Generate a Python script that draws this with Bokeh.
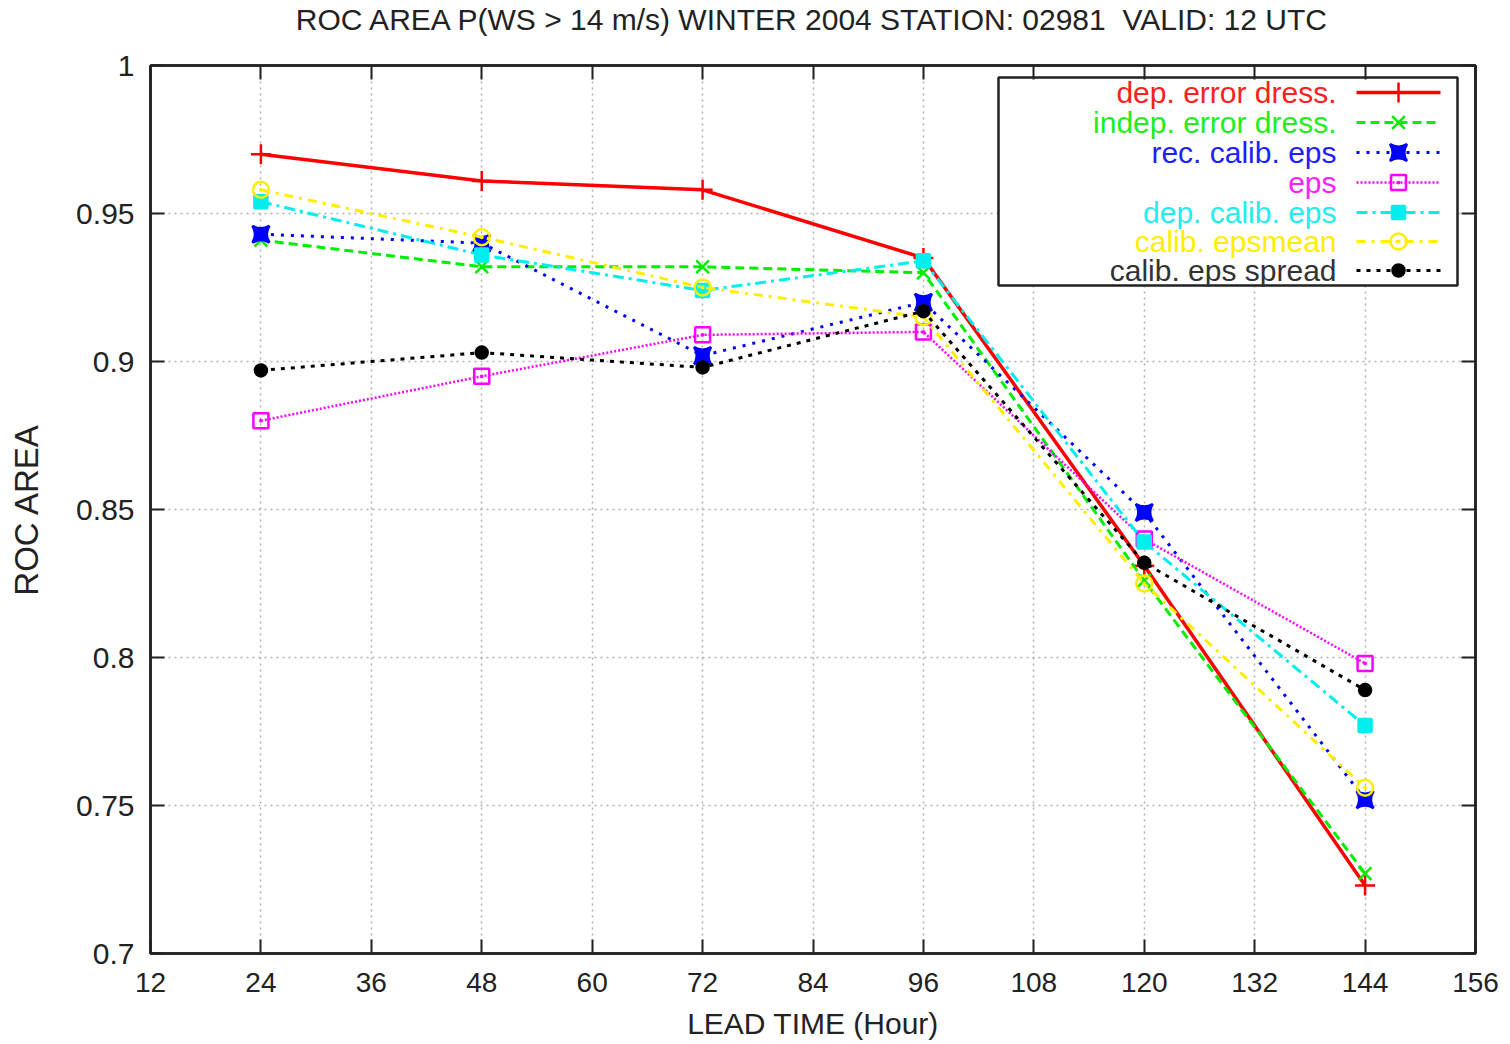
from bokeh.plotting import figure
from bokeh.models import (Range1d, FixedTicker, NumeralTickFormatter, LinearAxis,
                          Label, BoxAnnotation, CustomLabelingPolicy)
from bokeh.embed import file_html
from bokeh.resources import INLINE

# ---------------- data ----------------
lead_time = [24, 48, 72, 96, 120, 144]
dep_error_dress = [0.970, 0.961, 0.958, 0.935, 0.831, 0.723]
indep_error_dress = [0.941, 0.932, 0.932, 0.930, 0.826, 0.727]
rec_calib_eps = [0.943, 0.940, 0.902, 0.920, 0.849, 0.752]
eps = [0.880, 0.895, 0.909, 0.910, 0.840, 0.798]
dep_calib_eps = [0.954, 0.936, 0.924, 0.934, 0.839, 0.777]
calib_epsmean = [0.958, 0.942, 0.925, 0.915, 0.825, 0.756]
calib_eps_spread = [0.897, 0.903, 0.898, 0.917, 0.832, 0.789]

series_names = ["dep. error dress.", "indep. error dress.", "rec. calib. eps", "eps",
                "dep. calib. eps", "calib. epsmean", "calib. eps spread"]
series_values = [dep_error_dress, indep_error_dress, rec_calib_eps, eps,
                 dep_calib_eps, calib_epsmean, calib_eps_spread]

x_ticks = [12, 24, 36, 48, 60, 72, 84, 96, 108, 120, 132, 144, 156]
y_ticks = [0.7, 0.75, 0.8, 0.85, 0.9, 0.95, 1.0]

title_text = "ROC AREA P(WS > 14 m/s) WINTER 2004 STATION: 02981\u00a0\u00a0VALID: 12 UTC"

# ---------------- styles ----------------
styles = [
    dict(color="#ff0000", dash="solid", marker="cross", fill=None, size=20, lw=3.5),
    dict(color="#00ee00", dash="9 5", marker="x", fill=None, size=18, lw=3),
    dict(color="#0000ff", dash="3 7", marker="square_pin", fill="#0000ff", size=17, lw=3),
    dict(color="#ff00ff", dash="2 2", marker="square_dot", fill=None, size=15, lw=2.5),
    dict(color="#00eeee", dash="11 5 3 5", marker="square", fill="#00eeee", size=13, lw=3),
    dict(color="#ffee00", dash="9 6 3 6", marker="circle_dot", fill=None, size=16, lw=3),
    dict(color="#000000", dash="4 6", marker="circle", fill="#000000", size=12, lw=3),
]
label_colors = ["#ff2020", "#20ee20", "#2020ff", "#ff20ff", "#20eeee", "#ffee00", "#333333"]

FONT = "Liberation Sans"
TXT = "#222222"
AXC = "#222222"

X0, X1 = x_ticks[0], x_ticks[-1]
Y0, Y1 = y_ticks[0], y_ticks[-1]

p = figure(width=1510, height=1044, output_backend="svg", toolbar_location=None,
           x_range=Range1d(X0, X1), y_range=Range1d(Y0, Y1),
           min_border_left=150, min_border_right=35, min_border_top=65, min_border_bottom=91,
           background_fill_color="white", border_fill_color="white")

p.title.text = title_text
p.title.align = "center"
p.title.text_font = FONT
p.title.text_font_size = "30px"
p.title.text_font_style = "normal"
p.title.text_color = TXT
p.title.standoff = 0

p.outline_line_color = AXC
p.outline_line_width = 2.5

for ax in (p.xaxis[0], p.yaxis[0]):
    ax.major_label_text_font = FONT
    ax.major_label_text_color = TXT
    ax.axis_label_text_font = FONT
    ax.axis_label_text_font_style = "normal"
    ax.axis_label_text_color = TXT
    ax.major_tick_in = 14
    ax.major_tick_out = 0
    ax.minor_tick_in = 0
    ax.minor_tick_out = 0
    ax.axis_line_color = AXC
    ax.axis_line_width = 2.5
    ax.major_tick_line_color = AXC
    ax.major_tick_line_width = 2

p.xaxis[0].ticker = FixedTicker(ticks=x_ticks)
p.yaxis[0].ticker = FixedTicker(ticks=y_ticks)
p.yaxis[0].formatter = NumeralTickFormatter(format="0.[00]")
p.xaxis[0].axis_label = "LEAD TIME (Hour)"
p.yaxis[0].axis_label = "ROC AREA"
p.xaxis[0].major_label_text_font_size = "28px"
p.yaxis[0].major_label_text_font_size = "30px"
p.xaxis[0].axis_label_text_font_size = "30px"
p.yaxis[0].axis_label_text_font_size = "33px"
p.xaxis[0].major_label_standoff = 19
p.xaxis[0].axis_label_standoff = 12
p.yaxis[0].major_label_standoff = 16
p.yaxis[0].axis_label_standoff = 28

# mirrored ticks on right / top (no labels)
no_labels = CustomLabelingPolicy(code="if (false) { yield 0 }")
for side, tk, so in (("right", y_ticks, 0), ("above", x_ticks, 19)):
    ax = LinearAxis(ticker=FixedTicker(ticks=tk), major_label_policy=no_labels,
                    major_tick_in=14, major_tick_out=0, minor_tick_in=0, minor_tick_out=0,
                    axis_line_color=AXC, axis_line_width=2.5,
                    major_tick_line_color=AXC, major_tick_line_width=2,
                    major_label_standoff=so)
    p.add_layout(ax, side)

p.xgrid.ticker = FixedTicker(ticks=x_ticks)
p.ygrid.ticker = FixedTicker(ticks=y_ticks)
for g in (p.xgrid[0], p.ygrid[0]):
    g.grid_line_color = "#b0b0b0"
    g.grid_line_dash = "2 4"
    g.grid_line_width = 1.5

# ---------------- legend box (under the glyphs, above the grid) ----------------
W, H = 1325.0, 888.0  # frame size in px
def px2x(px):
    return X0 + (px - 150.0) / W * (X1 - X0)
def py2y(py):
    return Y1 - (py - 65.0) / H * (Y1 - Y0)

box = BoxAnnotation(left=px2x(998), right=px2x(1457), top=py2y(77), bottom=py2y(285),
                    fill_color="white", fill_alpha=1.0, line_color=AXC, line_alpha=1.0,
                    line_width=2.5, level="underlay")
p.add_layout(box)

# ---------------- series ----------------
for name, vals, st in zip(series_names, series_values, styles):
    p.line(lead_time, vals, line_color=st["color"], line_width=st["lw"], line_dash=st["dash"])
    p.scatter(lead_time, vals, marker=st["marker"], size=st["size"],
              line_color=st["color"], line_width=2.5,
              fill_color=st["fill"] if st["fill"] else "white",
              fill_alpha=1.0 if st["fill"] else 0.0)

# ---------------- legend samples (glyphs at right, coloured text to the left) ----------------
row_y = [92, 122, 152, 182, 212, 241, 270]
for name, col, st, ry in zip(series_names, label_colors, styles, row_y):
    yy = py2y(ry)
    p.line([px2x(1356), px2x(1440)], [yy, yy], line_color=st["color"], line_width=st["lw"],
           line_dash=st["dash"])
    p.scatter([px2x(1398)], [yy], marker=st["marker"], size=st["size"],
              line_color=st["color"], line_width=2.5,
              fill_color=st["fill"] if st["fill"] else "white",
              fill_alpha=1.0 if st["fill"] else 0.0)
    p.add_layout(Label(x=px2x(1336), y=yy, text=name, text_align="right",
                       text_baseline="middle", text_font=FONT, text_font_size="30px",
                       text_color=col))

open("out.html", "w").write(file_html(p, INLINE))
